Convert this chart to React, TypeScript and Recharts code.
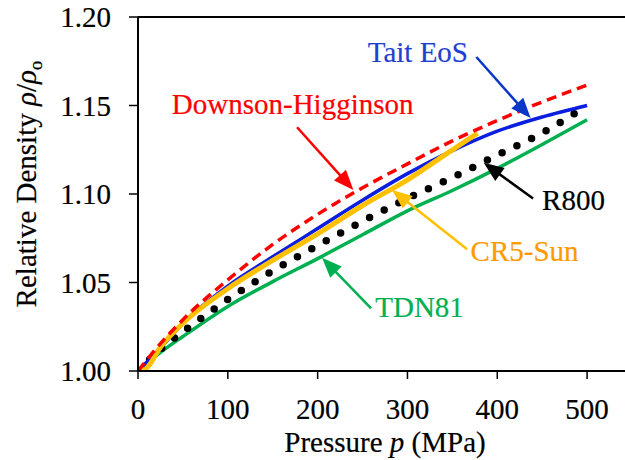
import React from 'react';
import { LineChart, Line, XAxis, YAxis, ReferenceLine, ReferenceDot, Label } from 'recharts';

// pressure in MPa, relative density rho/rho0
const pressure = [0, 25, 50, 100, 150, 200, 250, 300, 350, 400, 450, 500];
const downsonHigginson = [1.0, 1.0155, 1.029, 1.0515, 1.0715, 1.0885, 1.1035, 1.117, 1.13, 1.1415, 1.152, 1.1615];
const taitEoS = [1.0, 1.013, 1.027, 1.048, 1.0645, 1.0805, 1.0965, 1.1115, 1.1245, 1.1355, 1.1435, 1.15];
const r800 = [1.0, 1.0122, 1.0222, 1.0404, 1.0566, 1.0709, 1.0846, 1.0975, 1.1093, 1.122, 1.1345, 1.15];
const tdn81 = [1.0, 1.0105, 1.0195, 1.0365, 1.0505, 1.0635, 1.077, 1.0905, 1.102, 1.1145, 1.128, 1.142];
const cr5SunPressure = [0, 8, 25, 50, 100, 150, 200, 250, 300, 340, 378];
const cr5Sun = [1.0, 1.001, 1.0135, 1.027, 1.0465, 1.0625, 1.0775, 1.0935, 1.108, 1.1215, 1.1343];

const xTicks = [0, 100, 200, 300, 400, 500];
const yTicks = [1.0, 1.05, 1.1, 1.15, 1.2];

const FONT = 'Liberation Serif';
const FS = 29;
const TEXT_STROKE = 0.2;

const toPoints = (xs: number[], ys: number[]) => xs.map((p, i) => ({ p, rho: ys[i] }));

// label text position, arrow tail and tip, all in data units
const annotations = [
  { text: 'Tait EoS', color: '#1f3fcf', arrow: '#0a36c8', at: [311.6, 1.1746], from: [376.7, 1.1774], to: [437.1, 1.1429] },
  { text: 'Downson-Higginson', color: '#ff0000', arrow: '#ff0000', at: [172.2, 1.1452], from: [177.1, 1.1377], to: [239.8, 1.1023] },
  { text: 'R800', color: '#000000', arrow: '#000000', at: [484.9, 1.091], from: [439.9, 1.0975], to: [384.9, 1.1176] },
  { text: 'CR5-Sun', color: '#ff9a00', arrow: '#ffc000', at: [430.4, 1.0621], from: [366.4, 1.0688], to: [282.8, 1.1023] },
  { text: 'TDN81', color: '#00b050', arrow: '#00b050', at: [313.5, 1.0307], from: [259.5, 1.0354], to: [204.9, 1.064] },
];

function Arrow(props: any) {
  const { x1, y1, x2, y2, color } = props;
  const dx = x2 - x1;
  const dy = y2 - y1;
  const len = Math.hypot(dx, dy);
  const ux = dx / len;
  const uy = dy / len;
  const head = 20;
  const half = 8;
  const bx = x2 - ux * head;
  const by = y2 - uy * head;
  return (
    <g>
      <line x1={x1} y1={y1} x2={bx + ux * 2} y2={by + uy * 2} stroke={color} strokeWidth={2.5} />
      <polygon
        points={`${x2},${y2} ${bx - uy * half},${by + ux * half} ${bx + uy * half},${by - ux * half}`}
        fill={color}
      />
    </g>
  );
}

function XTitle(props: any) {
  const { x, y, width } = props.viewBox;
  return (
    <text
      x={x + width / 2}
      y={y + 81}
      textAnchor="middle"
      style={{ fontFamily: FONT }}
      fontSize={FS}
      fill="#000"
      stroke="#000"
      strokeWidth={TEXT_STROKE}
    >
      Pressure <tspan fontStyle="italic">p</tspan> (MPa)
    </text>
  );
}

function YTitle(props: any) {
  const { y, height } = props.viewBox;
  const cx = 35.5;
  const cy = y + height / 2 - 10;
  return (
    <text
      x={cx}
      y={cy}
      transform={`rotate(-90, ${cx}, ${cy})`}
      textAnchor="middle"
      style={{ fontFamily: FONT }}
      fontSize={FS}
      fill="#000"
      stroke="#000"
      strokeWidth={TEXT_STROKE}
    >
      Relative Density <tspan fontStyle="italic">ρ</tspan>/<tspan fontStyle="italic">ρ</tspan>
      <tspan fontSize={19} dy={6}>o</tspan>
    </text>
  );
}

export default function App() {
  const tickStyle = { fill: '#000', stroke: '#000', strokeWidth: TEXT_STROKE, fontSize: FS, style: { fontFamily: FONT } };
  return (
    <div style={{ position: 'absolute', left: 0, top: 0, width: 625, height: 460, overflow: 'hidden', background: '#fff', fontFamily: FONT }}>
      <LineChart width={640} height={460} margin={{ top: 17, right: 8, bottom: 0, left: 0 }} style={{ fontFamily: FONT }}>
        <XAxis
          type="number"
          dataKey="p"
          domain={[0, 550]}
          ticks={xTicks}
          allowDataOverflow
          tick={tickStyle}
          tickSize={8}
          tickMargin={19}
          height={89}
          axisLine={{ stroke: '#000', strokeWidth: 2 }}
          tickLine={{ stroke: '#000', strokeWidth: 1.5 }}
        >
          <Label content={XTitle} />
        </XAxis>
        <YAxis
          type="number"
          dataKey="rho"
          domain={[1.0, 1.2]}
          ticks={yTicks}
          allowDataOverflow
          tickFormatter={(v: number) => v.toFixed(2)}
          tick={tickStyle}
          tickSize={9}
          tickMargin={18}
          width={138}
          axisLine={{ stroke: '#000', strokeWidth: 2 }}
          tickLine={{ stroke: '#000', strokeWidth: 1.5 }}
        >
          <Label content={YTitle} />
        </YAxis>
        <ReferenceLine y={1.2} stroke="#000" strokeWidth={2} ifOverflow="visible" />
        <Line
          data={toPoints(pressure, tdn81)}
          dataKey="rho"
          type="monotone"
          stroke="#00b050"
          strokeWidth={3.5}
          dot={false}
          isAnimationActive={false}
        />
        <Line
          data={toPoints(pressure, r800)}
          dataKey="rho"
          type="monotone"
          stroke="#000"
          strokeWidth={7.5}
          strokeDasharray="0 16.4"
          strokeLinecap="round"
          dot={false}
          isAnimationActive={false}
        />
        <Line
          data={toPoints(pressure, taitEoS)}
          dataKey="rho"
          type="monotone"
          stroke="#0a1ee0"
          strokeWidth={3.5}
          dot={false}
          isAnimationActive={false}
        />
        <Line
          data={toPoints(cr5SunPressure, cr5Sun)}
          dataKey="rho"
          type="monotone"
          stroke="#ffc000"
          strokeWidth={5}
          dot={false}
          isAnimationActive={false}
        />
        <Line
          data={toPoints(pressure, downsonHigginson)}
          dataKey="rho"
          type="monotone"
          stroke="#ff0000"
          strokeWidth={3.5}
          strokeDasharray="10 6"
          dot={false}
          isAnimationActive={false}
        />
        {annotations.map((a) => (
          <ReferenceLine
            key={`arrow-${a.text}`}
            segment={[{ x: a.from[0], y: a.from[1] }, { x: a.to[0], y: a.to[1] }]}
            ifOverflow="visible"
            shape={(p: any) => <Arrow {...p} color={a.arrow} />}
          />
        ))}
        {annotations.map((a) => (
          <ReferenceDot
            key={`label-${a.text}`}
            x={a.at[0]}
            y={a.at[1]}
            r={0}
            ifOverflow="visible"
            shape={(p: any) => (
              <text
                x={p.cx}
                y={p.cy}
                textAnchor="middle"
                style={{ fontFamily: FONT }}
                fontSize={FS}
                fill={a.color}
                stroke={a.color}
                strokeWidth={TEXT_STROKE}
              >
                {a.text}
              </text>
            )}
          />
        ))}
      </LineChart>
    </div>
  );
}
